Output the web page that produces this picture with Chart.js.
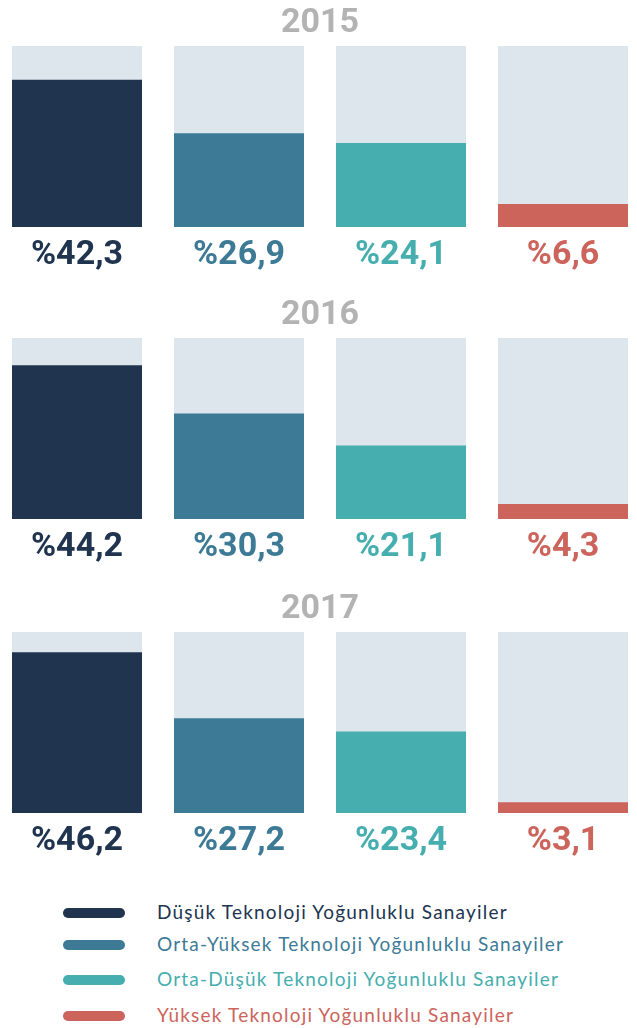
<!DOCTYPE html>
<html lang="tr">
<head>
<meta charset="utf-8">
<title>Teknoloji Yoğunluğuna Göre Sanayiler</title>
<script src="https://cdn.jsdelivr.net/npm/chart.js@4.4.0/dist/chart.umd.min.js"></script>
<style>
    html, body { margin: 0; padding: 0; background: #fff; }
    body { width: 637px; height: 1028px; position: relative; overflow: hidden; }
    .panel { position: absolute; left: -4px; width: 648px; height: 289px; }
    .legend { position: absolute; left: 63px; top: 0; font-family: Lato, sans-serif; font-weight: 400; font-size: 19px; letter-spacing: 1.2px; }
    .legend-row { position: absolute; left: 0; white-space: nowrap; height: 20px; }
    .legend-row .swatch { position: absolute; left: 0; top: 5px; width: 62px; height: 10px; border-radius: 5px; }
    .legend-row span { position: absolute; left: 94px; top: -3px; line-height: 24px; }
</style>
</head>
<body>
<div class="panel" style="top:0px"><canvas id="chart2015"></canvas></div>
<div class="panel" style="top:292px"><canvas id="chart2016"></canvas></div>
<div class="panel" style="top:586px"><canvas id="chart2017"></canvas></div>
<div class="legend" id="legend"></div>

<script>
// Sanayi grupları ve yıllara göre paylar (%)
const years = ['2015', '2016', '2017'];
const categories = [
    'Düşük Teknoloji Yoğunluklu Sanayiler',
    'Orta-Yüksek Teknoloji Yoğunluklu Sanayiler',
    'Orta-Düşük Teknoloji Yoğunluklu Sanayiler',
    'Yüksek Teknoloji Yoğunluklu Sanayiler'
];
const values2015 = [42.3, 26.9, 24.1, 6.6];
const values2016 = [44.2, 30.3, 21.1, 4.3];
const values2017 = [46.2, 27.2, 23.4, 3.1];
const seriesColors = ['#203450', '#3d7a96', '#46aeae', '#cc645c'];
const trackColor = '#dce6ec';
const scaleMax = 52;

const yearValues = { '2015': values2015, '2016': values2016, '2017': values2017 };

function formatPercent(v) {
    return '%' + v.toFixed(1).replace('.', ',');
}

function buildChart(year) {
    const values = yearValues[year];
    const ctx = document.getElementById('chart' + year);
    return new Chart(ctx, {
        type: 'bar',
        data: {
            labels: categories,
            datasets: [
                {
                    // değer çubukları
                    data: values,
                    backgroundColor: seriesColors,
                    grouped: false,
                    order: 1,
                    barPercentage: 130 / 162,
                    categoryPercentage: 1
                },
                {
                    // arka plandaki açık renkli kolon
                    data: categories.map(() => scaleMax),
                    backgroundColor: trackColor,
                    grouped: false,
                    order: 2,
                    barPercentage: 130 / 162,
                    categoryPercentage: 1
                }
            ]
        },
        options: {
            responsive: true,
            maintainAspectRatio: false,
            animation: false,
            layout: { padding: { top: 0, bottom: 5.2, left: 0, right: 0 } },
            plugins: {
                legend: { display: false },
                tooltip: { enabled: false },
                title: {
                    display: true,
                    text: year,
                    color: '#b3b3b3',
                    font: { family: 'Roboto', size: 34, weight: 'bold', lineHeight: 1.2 },
                    padding: { top: 3, bottom: 2.2 }
                }
            },
            scales: {
                x: {
                    grid: { display: false, drawTicks: false },
                    border: { display: false },
                    ticks: {
                        padding: 8,
                        autoSkip: false,
                        maxRotation: 0,
                        font: { family: 'Roboto', size: 34, weight: 'bold', lineHeight: 1.2 },
                        color: (c) => seriesColors[c.index],
                        callback: (v, i) => formatPercent(values[i])
                    }
                },
                y: {
                    display: false,
                    min: 0,
                    max: scaleMax
                }
            }
        }
    });
}

years.forEach(buildChart);

// Alt kısımdaki açıklama
const legendRows = [913, 945, 980, 1016];
const legend = document.getElementById('legend');
categories.forEach((name, i) => {
    const row = document.createElement('div');
    row.className = 'legend-row';
    row.style.top = (legendRows[i] - 10) + 'px';
    row.innerHTML = `<div class="swatch" style="background:${seriesColors[i]}"></div><span style="color:${seriesColors[i]}">${name}</span>`;
    legend.appendChild(row);
});
</script>
</body>
</html>
